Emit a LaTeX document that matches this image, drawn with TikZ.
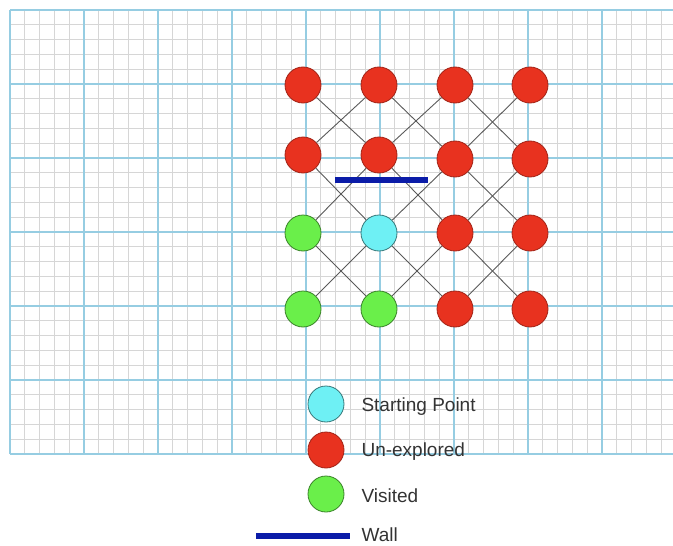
\documentclass[tikz,border=0pt]{standalone}
\usepackage{fontspec}
\setmainfont{Liberation Sans}

\definecolor{gridgray}{HTML}{D6D6D6}
\definecolor{gridblue}{HTML}{96CDE2}
\definecolor{redfill}{HTML}{E8321F}
\definecolor{greenfill}{HTML}{6AEF4A}
\definecolor{cyanfill}{HTML}{6EF0F4}
\definecolor{wallblue}{HTML}{0B1CA8}

\tikzset{
minor/.style={gridgray, line width=1.3pt},
major/.style={gridblue, line width=1.5pt},
cell/.style={circle, minimum size=36pt, inner sep=0pt, line width=0.8pt},
unexplored/.style={cell, fill=redfill, draw=redfill!70!black},
visited/.style={cell, fill=greenfill, draw=greenfill!55!black},
start/.style={cell, fill=cyanfill, draw=cyanfill!50!black},
link/.style={draw=black!65, line width=0.9pt},
wall/.style={wallblue, line width=6pt},
legend/.style={anchor=west, text=black!80, font=\fontsize{19}{21}\selectfont}
}

\begin{document}
\begin{tikzpicture}[x=1pt, y=-1pt]

\useasboundingbox (0,0) rectangle (673,546);

% Grille
\foreach \x in {10,24.8,...,674}
{
\draw[minor] (\x,10) -- (\x,454);
}
\foreach \y in {10,24.8,...,455}
{
\draw[minor] (10,\y) -- (673,\y);
}
\foreach \x in {10,84,...,674}
{
\draw[major] (\x,10) -- (\x,454);
}
\foreach \y in {10,84,...,455}
{
\draw[major] (10,\y) -- (673,\y);
}

% Cases
\foreach \n/\x/\y/\s in {
n11/303/85/unexplored,
n12/379/85/unexplored,
n13/455/85/unexplored,
n14/530/85/unexplored,
n21/303/155/unexplored,
n22/379/155/unexplored,
n23/455/159/unexplored,
n24/530/159/unexplored,
n31/303/233/visited,
n32/379/233/start,
n33/455/233/unexplored,
n34/530/233/unexplored,
n41/303/309/visited,
n42/379/309/visited,
n43/455/309/unexplored,
n44/530/309/unexplored%
}
{
\node[\s] (\n) at (\x,\y) {};
}

% Liens
\foreach \a/\b in {
n11/n22, n12/n21, n12/n23, n13/n22, n13/n24, n14/n23,
n21/n32, n22/n31, n22/n33, n23/n32, n23/n34, n24/n33,
n31/n42, n32/n41, n32/n43, n33/n42, n33/n44, n34/n43%
}
{
\draw[link] (\a) -- (\b);
}

% Mur
\coordinate (wall1) at (335,180);
\coordinate (wall2) at (428,180);
\draw[wall] (wall1) -- (wall2);

% Legende
\node[start] (legstart) at (326,404) {};
\node[legend] (txtstart) at (358,407) {Starting Point};

\node[unexplored] (legunexp) at (326,450) {};
\node[legend] (txtunexp) at (358,452) {Un-explored};

\node[visited] (legvisit) at (326,494) {};
\node[legend] (txtvisit) at (358,496) {Visited};

\coordinate (legwall1) at (256,536);
\coordinate (legwall2) at (350,536);
\draw[wall] (legwall1) -- (legwall2);
\node[legend] (txtwall) at (358,535) {Wall};

\end{tikzpicture}
\end{document}
